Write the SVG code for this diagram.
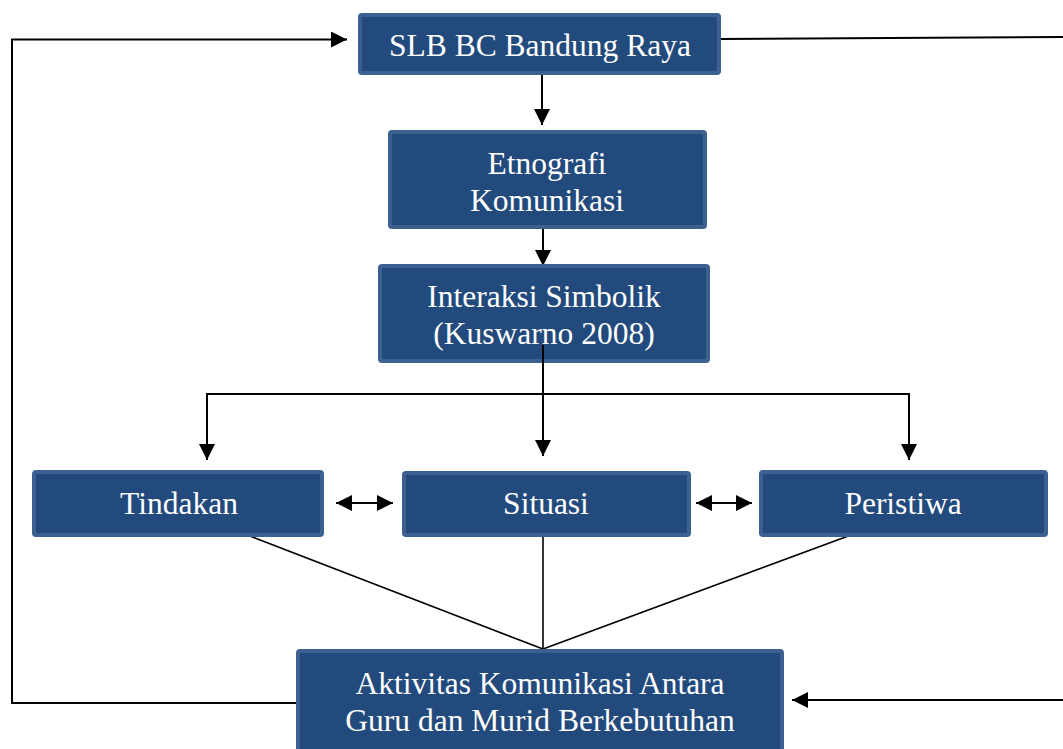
<svg xmlns="http://www.w3.org/2000/svg" width="1063" height="749" viewBox="0 0 1063 749">
<style>
.box{fill:#224a7c;stroke:#3c6190;stroke-width:4}
.t{font-family:"Liberation Serif","Times New Roman",serif;font-size:31.5px;fill:#ffffff;text-anchor:middle}
.c{fill:none;stroke:#000;stroke-width:2}
.d{fill:none;stroke:#000;stroke-width:1.6}
</style>
<defs>
<marker id="ah" markerUnits="userSpaceOnUse" markerWidth="16" markerHeight="16" viewBox="0 0 16 16" refX="16" refY="8" orient="auto-start-reverse">
<path d="M0,0 L16,8 L0,16 Z" fill="#000"/>
</marker>
</defs>
<rect width="1063" height="749" fill="#fff"/>
<g id="connectors">
<polyline class="c" points="296,703 12,703 12,39.5 347,39.5" marker-end="url(#ah)"/>
<polyline class="c" points="721,39 1063,37"/>
<line class="c" x1="1063" y1="700" x2="792" y2="700" marker-end="url(#ah)"/>
<line class="c" x1="542" y1="75" x2="542" y2="125" marker-end="url(#ah)"/>
<line class="c" x1="543" y1="229" x2="543" y2="266" marker-end="url(#ah)"/>
<polyline class="c" points="207,460 207,394 909,394 909,460" marker-start="url(#ah)" marker-end="url(#ah)"/>
<line class="c" x1="336" y1="503" x2="393" y2="503" marker-start="url(#ah)" marker-end="url(#ah)"/>
<line class="c" x1="696" y1="503" x2="752" y2="503" marker-start="url(#ah)" marker-end="url(#ah)"/>
<line class="d" x1="247" y1="535" x2="543" y2="649"/>
<line class="d" x1="543" y1="537" x2="543" y2="649"/>
<line class="d" x1="851" y1="535" x2="543" y2="649"/>
</g>
<g id="n-slb">
<rect class="box" x="360" y="15" width="359" height="58" rx="2"/>
<text class="t" x="540" y="56">SLB BC Bandung Raya</text>
</g>
<g id="n-etnografi">
<rect class="box" x="390" y="132" width="315" height="95" rx="2"/>
<text class="t" x="547" y="174">Etnografi</text>
<text class="t" x="547" y="211">Komunikasi</text>
</g>
<g id="n-interaksi">
<rect class="box" x="380" y="266" width="328" height="95" rx="2"/>
<text class="t" x="544" y="307">Interaksi Simbolik</text>
<text class="t" x="544" y="344">(Kuswarno 2008)</text>
</g>
<line class="c" x1="543" y1="345" x2="543" y2="456" marker-end="url(#ah)"/>
<g id="n-tindakan">
<rect class="box" x="34" y="472" width="288" height="63" rx="2"/>
<text class="t" x="179" y="514">Tindakan</text>
</g>
<g id="n-situasi">
<rect class="box" x="404" y="473" width="285" height="62" rx="2"/>
<text class="t" x="546" y="514">Situasi</text>
</g>
<g id="n-peristiwa">
<rect class="box" x="761" y="472" width="285" height="63" rx="2"/>
<text class="t" x="903" y="514">Peristiwa</text>
</g>
<g id="n-aktivitas">
<rect class="box" x="298" y="651" width="484" height="110" rx="2"/>
<text class="t" x="540" y="694">Aktivitas Komunikasi Antara</text>
<text class="t" x="540" y="731">Guru dan Murid Berkebutuhan</text>
</g>
</svg>
